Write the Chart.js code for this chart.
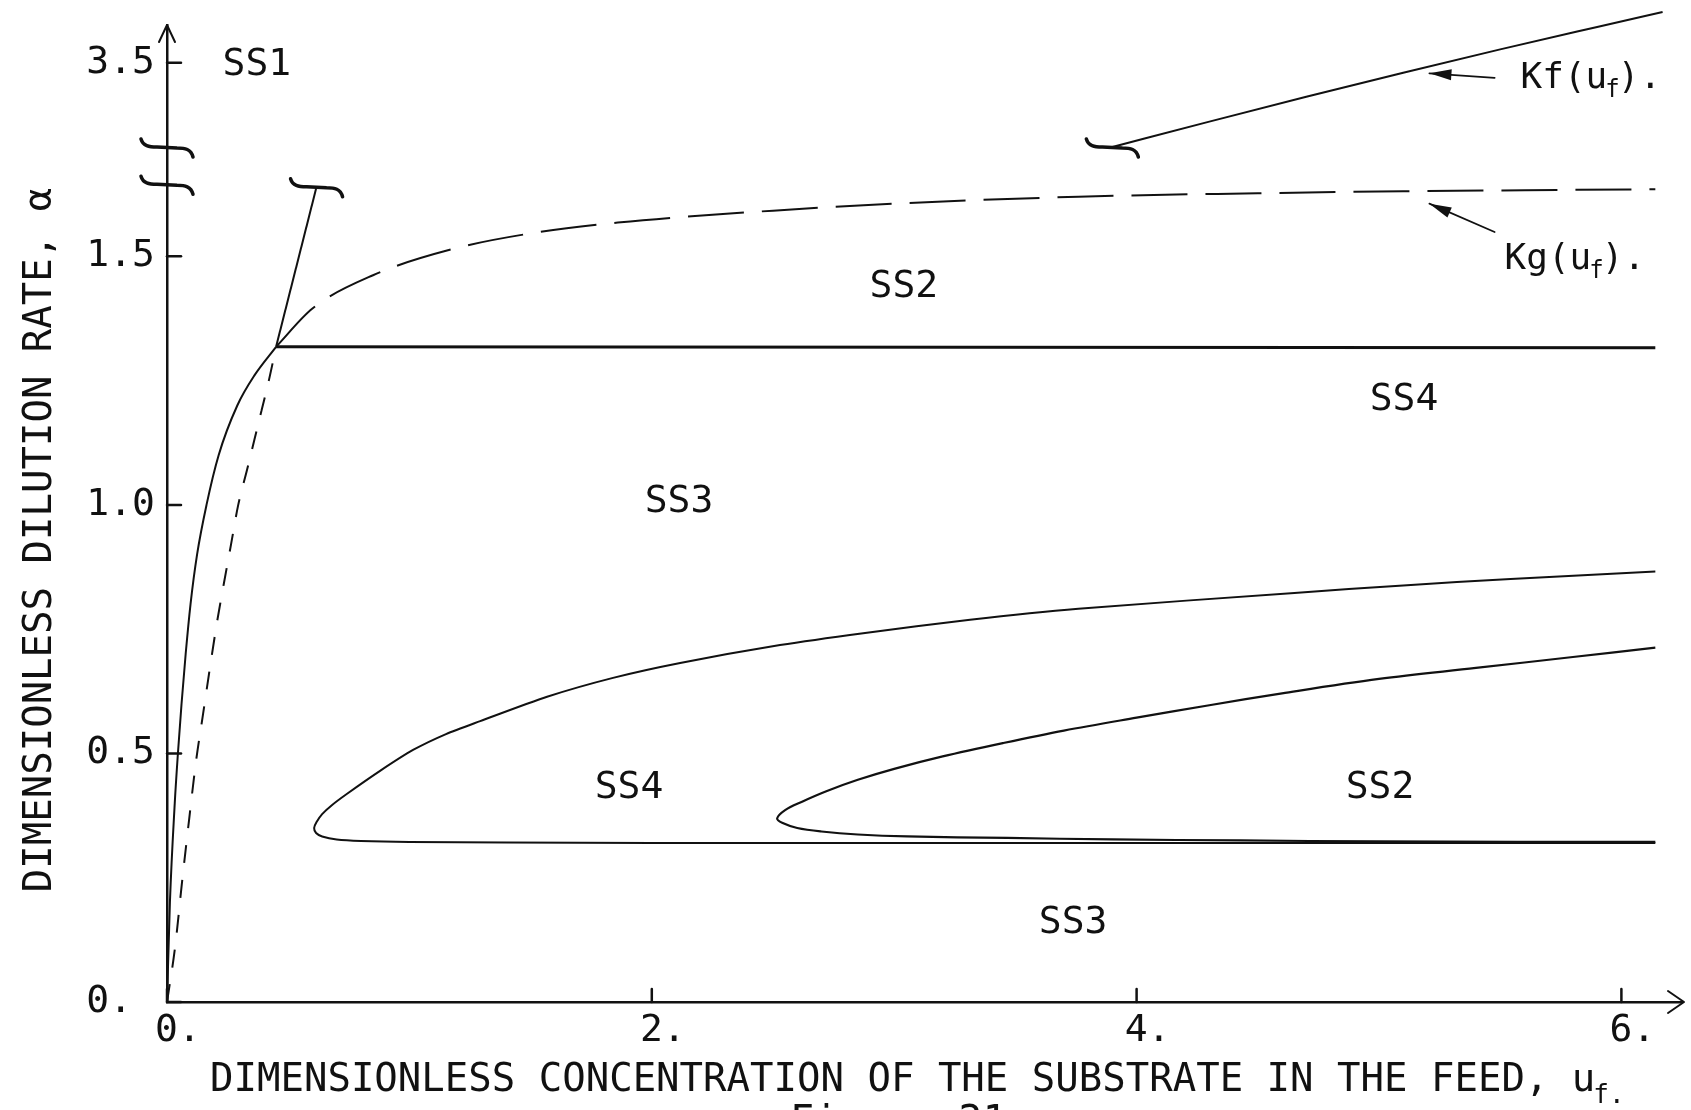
<!DOCTYPE html>
<html>
<head>
<meta charset="utf-8">
<script src="https://cdn.jsdelivr.net/npm/chart.js@4.4.1/dist/chart.umd.min.js"></script>
<style>
  html, body { margin: 0; padding: 0; background: #ffffff; }
  #wrap { width: 1691px; height: 1110px; position: relative; }
  canvas { display: block; }
</style>
</head>
<body>
<div id="wrap"><canvas id="c" width="1691" height="1110"></canvas></div>
<script>
// ---------------- data ----------------
const xTickValues = [0, 2, 4, 6];
const xTickLabels = ['0.', '2.', '4.', '6.'];
const yTickValues = [0, 0.5, 1.0, 1.5];
const yTickLabels = ['0. ', '0.5', '1.0', '1.5'];
const y2TickValues = [3.5];
const y2TickLabels = ['3.5'];

const xRange = [0, 6.25];
const yLowRange = [0, 1.72];
const yHighRange = [3.331, 3.576];
const yAxisBreakLow = 1.645;   // break mark on the lower axis part
const yAxisBreakHigh = 3.331;  // break mark at the foot of the upper axis part

// solid boundary curve from origin to the junction point
const boundaryU = [0, 0.012, 0.032, 0.045, 0.060, 0.077, 0.097, 0.124, 0.163, 0.213, 0.29, 0.36, 0.45];
const boundaryV = [0, 0.2, 0.4, 0.5, 0.6, 0.7, 0.8, 0.9, 1.0, 1.1, 1.2, 1.26, 1.318];

// Kg(uf) dashed curve: lower steep part and upper flat part
const kgLowU = [0, 0.033, 0.062, 0.091, 0.12, 0.149, 0.177, 0.206, 0.235, 0.264, 0.293, 0.33, 0.36, 0.39, 0.42, 0.45];
const kgLowV = [0, 0.109, 0.241, 0.366, 0.485, 0.58, 0.672, 0.763, 0.843, 0.92, 0.998, 1.07, 1.13, 1.19, 1.25, 1.318];
const kgHighU = [0.45, 0.6, 0.85, 1.18, 1.51, 1.86, 2.5, 3.0, 3.76, 4.5, 5.1, 5.6, 6.14];
const kgHighV = [1.318, 1.395, 1.462, 1.515, 1.547, 1.568, 1.592, 1.606, 1.620, 1.627, 1.631, 1.633, 1.635];

// Kf(uf) solid curve: below the break and above the break
const kfLowU = [0.45, 0.617];
const kfLowV = [1.318, 1.64];
const kfHighU = [3.9, 4.3, 4.7, 5.1, 5.5, 5.9, 6.17];
const kfHighV = [3.331, 3.382, 3.432, 3.480, 3.527, 3.572, 3.602];

// horizontal SS2/SS4 boundary
const ss4LineU = [0.45, 6.14];
const ss4LineV = [1.318, 1.316];

// outer loop (lower branch from right to tip, then upper branch to right)
const outerLoopU = [6.14, 5.0, 4.0, 3.0, 2.0, 1.4, 1.0, 0.8, 0.7, 0.64, 0.615, 0.607,
  0.617, 0.64, 0.68, 0.743, 0.879, 1.015, 1.151, 1.292, 1.568, 1.840, 2.117, 2.529, 2.872, 3.313, 3.76, 4.651, 5.1, 5.543, 6.14];
const outerLoopV = [0.320, 0.320, 0.320, 0.320, 0.320, 0.321, 0.322, 0.324, 0.327, 0.333, 0.340, 0.350,
  0.362, 0.378, 0.396, 0.419, 0.465, 0.507, 0.539, 0.565, 0.614, 0.652, 0.682, 0.718, 0.742, 0.769, 0.791, 0.823, 0.838, 0.851, 0.866];

// inner loop
const innerLoopU = [6.14, 5.0, 4.428, 3.9, 3.467, 3.054, 2.85, 2.7, 2.6, 2.54, 2.517,
  2.55, 2.62, 2.72, 2.85, 3.0, 3.2, 3.45, 3.7, 4.0, 4.3, 4.6, 5.0, 5.4, 5.8, 6.14];
const innerLoopV = [0.322, 0.323, 0.325, 0.327, 0.330, 0.333, 0.337, 0.343, 0.350, 0.360, 0.369,
  0.386, 0.403, 0.424, 0.447, 0.469, 0.494, 0.521, 0.546, 0.572, 0.597, 0.621, 0.650, 0.672, 0.694, 0.713];

// region labels (text + anchor in data units)
const regionNames = ['SS1', 'SS2', 'SS4', 'SS3', 'SS4', 'SS2', 'SS3'];
const regionU = [0.371, 3.04, 5.103, 2.112, 1.906, 5.004, 3.738];
const regionV = [3.495, 1.439, 1.211, 1.006, 0.431, 0.431, 0.159];
const regionAxis = ['y2', 'y', 'y', 'y', 'y', 'y', 'y'];

// curve name labels with pointer arrows
const curveNames = ['Kf', 'Kg'];
const curveLabelU = [5.584, 5.518];
const curveLabelV = [3.468, 1.493];
const curveLabelAxis = ['y2', 'y'];
const arrowTailU = [5.477, 5.477];
const arrowTailV = [3.470, 1.549];
const arrowTipU = [5.208, 5.208];
const arrowTipV = [3.479, 1.606];

const xTitle = 'DIMENSIONLESS CONCENTRATION OF THE SUBSTRATE IN THE FEED, u';
const yTitle = 'DIMENSIONLESS DILUTION RATE, \u03B1';
const caption = 'Figure 21';

// ---------------- styling ----------------
const INK = '#111111';
const FONT = '"DejaVu Sans Mono", "Liberation Mono", monospace';
Chart.defaults.font.family = FONT;
Chart.defaults.color = INK;

const pts = (u, v) => u.map((val, i) => ({ x: val, y: v[i] }));

function lineDs(label, u, v, extra) {
  return Object.assign({
    label, data: pts(u, v), showLine: true, pointRadius: 0, borderColor: INK,
    borderWidth: 2, fill: false, tension: 0, yAxisID: 'y'
  }, extra || {});
}

const datasets = [
  lineDs('boundary', boundaryU, boundaryV, { cubicInterpolationMode: 'monotone' }),
  lineDs('Kg low', kgLowU, kgLowV, { borderDash: [18, 17], cubicInterpolationMode: 'monotone' }),
  lineDs('Kg high', kgHighU, kgHighV, { borderDash: [56, 18], cubicInterpolationMode: 'monotone' }),
  lineDs('Kf low', kfLowU, kfLowV),
  lineDs('Kf high', kfHighU, kfHighV, { yAxisID: 'y2', clip: false, cubicInterpolationMode: 'monotone' }),
  lineDs('SS4 line', ss4LineU, ss4LineV, { borderWidth: 3 }),
  lineDs('outer loop', outerLoopU, outerLoopV, { tension: 0.25 }),
  lineDs('inner loop', innerLoopU, innerLoopV, { tension: 0.35, borderWidth: 2.2 })
];

function breakMark(ctx, cx, cy) {
  ctx.beginPath();
  ctx.moveTo(cx - 26, cy - 8);
  ctx.bezierCurveTo(cx - 24, cy - 1, cx - 18, cy, cx - 10, cy);
  ctx.lineTo(cx + 10, cy + 1);
  ctx.bezierCurveTo(cx + 18, cy + 1, cx + 24, cy + 2, cx + 26, cy + 10);
  ctx.stroke();
}

const decor = {
  id: 'decor',
  afterDraw(chart) {
    const { ctx, chartArea: ca, scales } = chart;
    const x = scales.x, y = scales.y, y2 = scales.y2;
    ctx.save();
    ctx.strokeStyle = INK;
    ctx.fillStyle = INK;
    ctx.lineCap = 'round';
    ctx.lineJoin = 'round';

    // inward tick marks
    ctx.lineWidth = 2.5;
    [y, y2].forEach(s => s.ticks.forEach(t => {
      const py = s.getPixelForValue(t.value);
      ctx.beginPath(); ctx.moveTo(ca.left, py); ctx.lineTo(ca.left + 14, py); ctx.stroke();
    }));
    x.ticks.forEach(t => {
      const px = x.getPixelForValue(t.value);
      ctx.beginPath(); ctx.moveTo(px, ca.bottom); ctx.lineTo(px, ca.bottom - 13); ctx.stroke();
    });

    // axis arrowheads (open chevrons)
    ctx.lineWidth = 2;
    ctx.beginPath();
    ctx.moveTo(ca.left - 8, ca.top + 17); ctx.lineTo(ca.left, ca.top); ctx.lineTo(ca.left + 8, ca.top + 17);
    ctx.stroke();
    ctx.beginPath();
    ctx.moveTo(ca.right - 14, ca.bottom - 11); ctx.lineTo(ca.right + 2, ca.bottom); ctx.lineTo(ca.right - 14, ca.bottom + 11);
    ctx.stroke();

    // axis break marks
    ctx.lineWidth = 3.5;
    breakMark(ctx, ca.left, y.getPixelForValue(yAxisBreakLow));
    breakMark(ctx, ca.left, y2.getPixelForValue(yAxisBreakHigh));
    // curve break marks (end of Kf below the break, start of Kf above it)
    breakMark(ctx, x.getPixelForValue(kfLowU[kfLowU.length - 1]), y.getPixelForValue(kfLowV[kfLowV.length - 1]));
    breakMark(ctx, x.getPixelForValue(kfHighU[0]), y2.getPixelForValue(kfHighV[0]));

    // region labels
    ctx.font = '38px ' + FONT;
    ctx.textAlign = 'center';
    ctx.textBaseline = 'middle';
    regionNames.forEach((name, i) => {
      const s = scales[regionAxis[i]];
      ctx.fillText(name, x.getPixelForValue(regionU[i]), s.getPixelForValue(regionV[i]));
    });

    // curve labels: "Kf(uf)." and "Kg(uf)."
    curveNames.forEach((name, i) => {
      const s = scales[curveLabelAxis[i]];
      let px = x.getPixelForValue(curveLabelU[i]);
      const py = s.getPixelForValue(curveLabelV[i]);
      ctx.textAlign = 'left';
      ctx.textBaseline = 'middle';
      ctx.font = '36px ' + FONT;
      ctx.fillText(name + '(u', px, py);
      px += ctx.measureText(name + '(u').width;
      ctx.font = '24px ' + FONT;
      ctx.fillText('f', px - 2, py + 12);
      px += ctx.measureText('f').width - 4;
      ctx.font = '36px ' + FONT;
      ctx.fillText(').', px, py);

      // pointer arrow
      const tx = x.getPixelForValue(arrowTailU[i]), ty = s.getPixelForValue(arrowTailV[i]);
      const hx = x.getPixelForValue(arrowTipU[i]), hy = s.getPixelForValue(arrowTipV[i]);
      const ang = Math.atan2(hy - ty, hx - tx);
      ctx.lineWidth = 1.8;
      ctx.beginPath(); ctx.moveTo(tx, ty); ctx.lineTo(hx, hy); ctx.stroke();
      ctx.beginPath();
      ctx.moveTo(hx, hy);
      ctx.lineTo(hx - 22 * Math.cos(ang) + 5.5 * Math.sin(ang), hy - 22 * Math.sin(ang) - 5.5 * Math.cos(ang));
      ctx.lineTo(hx - 22 * Math.cos(ang) - 5.5 * Math.sin(ang), hy - 22 * Math.sin(ang) + 5.5 * Math.cos(ang));
      ctx.closePath();
      ctx.fill();
    });

    // x axis title with subscript
    ctx.textAlign = 'left';
    ctx.textBaseline = 'alphabetic';
    ctx.font = '39px ' + FONT;
    const xtx = 210, xty = 1091;
    ctx.fillText(xTitle, xtx, xty);
    const ex = xtx + ctx.measureText(xTitle).width;
    ctx.font = '26px ' + FONT;
    ctx.fillText('f.', ex - 2, xty + 12);

    // caption (cut by the page edge)
    ctx.font = '40px ' + FONT;
    ctx.fillText(caption, 790, 1134);

    // y axis title (rotated)
    ctx.save();
    ctx.translate(51, 540);
    ctx.rotate(-Math.PI / 2);
    ctx.textAlign = 'center';
    ctx.font = '39px ' + FONT;
    ctx.fillText(yTitle, 0, 0);
    ctx.restore();

    ctx.restore();
  }
};

const tickFont = { family: FONT, size: 38 };
const noPadV = s => { s.paddingTop = 0; s.paddingBottom = 0; };

new Chart(document.getElementById('c'), {
  type: 'scatter',
  data: { datasets },
  options: {
    responsive: false,
    animation: false,
    devicePixelRatio: 1,
    layout: { padding: { top: 25, right: 9, left: 0, bottom: 0 } },
    plugins: { legend: { display: false }, tooltip: { enabled: false } },
    scales: {
      x: {
        type: 'linear', position: 'bottom', min: xRange[0], max: xRange[1],
        afterBuildTicks: s => { s.ticks = xTickValues.map(v => ({ value: v })); },
        afterFit: s => { s.height = 108; s.paddingLeft = 0; s.paddingRight = 0; },
        ticks: {
          font: tickFont, color: INK, padding: 6, labelOffset: 11, maxRotation: 0, autoSkip: false,
          callback: v => xTickLabels[xTickValues.indexOf(v)]
        },
        grid: { display: false, drawTicks: false },
        border: { display: true, color: INK, width: 2.5 }
      },
      y: {
        type: 'linear', position: 'left', stack: 'left', stackWeight: 855,
        min: yLowRange[0], max: yLowRange[1],
        afterBuildTicks: s => { s.ticks = yTickValues.map(v => ({ value: v })); },
        afterFit: s => { s.width = 167; noPadV(s); },
        ticks: {
          font: tickFont, color: INK, padding: 12, autoSkip: false,
          callback: v => yTickLabels[yTickValues.indexOf(v)]
        },
        grid: { display: false, drawTicks: false },
        border: { display: true, color: INK, width: 2.5 }
      },
      y2: {
        type: 'linear', position: 'left', stack: 'left', stackWeight: 122,
        min: yHighRange[0], max: yHighRange[1],
        afterBuildTicks: s => { s.ticks = y2TickValues.map(v => ({ value: v })); },
        afterFit: s => { s.width = 167; noPadV(s); },
        ticks: {
          font: tickFont, color: INK, padding: 12, autoSkip: false,
          callback: v => y2TickLabels[y2TickValues.indexOf(v)]
        },
        grid: { display: false, drawTicks: false },
        border: { display: true, color: INK, width: 2.5 }
      }
    }
  },
  plugins: [decor]
});
</script>
</body>
</html>
